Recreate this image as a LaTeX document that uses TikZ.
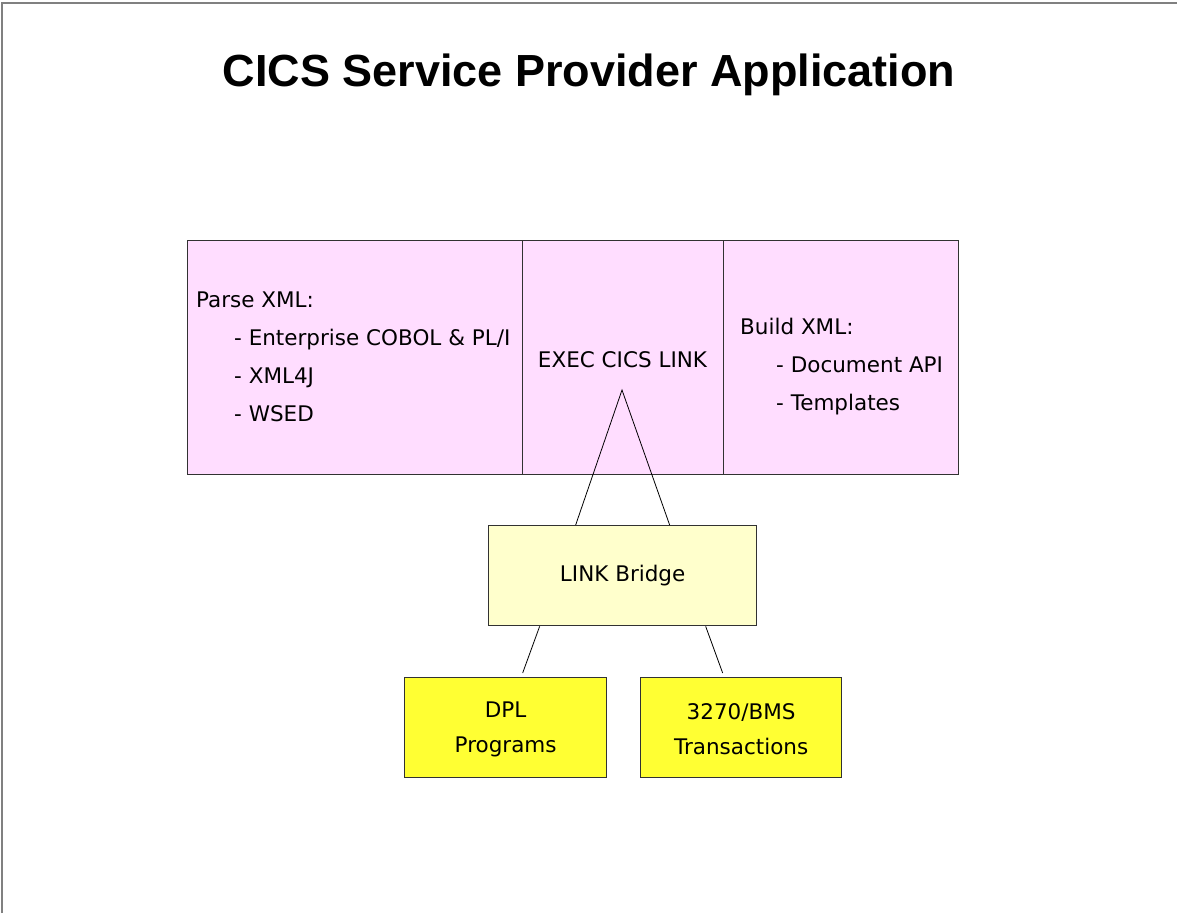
\documentclass[tikz,border=0pt]{standalone}
\usepackage{fontspec}
\setmainfont{DejaVu Sans}
\newfontfamily\titlefont{Liberation Sans}
\usetikzlibrary{calc}
\definecolor{pinkfill}{RGB}{255,221,255}
\definecolor{lightyellow}{RGB}{255,255,204}
\definecolor{brightyellow}{RGB}{255,255,51}
\definecolor{edgegray}{RGB}{50,50,50}
\begin{document}
\begin{tikzpicture}[x=1pt,y=-1pt,
  box/.style={draw=edgegray, line width=1.3pt, anchor=north west, inner sep=0pt},
  lbl/.style={font=\fontsize{21.5}{35}\selectfont, inner sep=0pt},
  conn/.style={draw=black, line width=0.8pt}]
\useasboundingbox (0,0) rectangle (1177,913);
\fill[white] (0,0) rectangle (1177,913);
\draw[gray, line width=1.5pt] (2,913) -- (2,3) -- (1177,3);

\node[font=\titlefont\bfseries\fontsize{45}{52}\selectfont, inner sep=0pt] (title) at (589,75) {CICS Service Provider Application};

% top composite box
\node[box, fill=pinkfill, minimum width=335, minimum height=234] (parse) at (187,240) {};
\node[box, fill=pinkfill, minimum width=201, minimum height=234] (exec) at (522,240) {};
\node[box, fill=pinkfill, minimum width=235, minimum height=234] (build) at (723,240) {};

\node[lbl, anchor=base west] (p0) at (196,307) {Parse XML:};
\node[lbl, anchor=base west] (p1) at (234,345) {- Enterprise COBOL \& PL/I};
\node[lbl, anchor=base west] (p2) at (234,383) {- XML4J};
\node[lbl, anchor=base west] (p3) at (234,421) {- WSED};

\node[lbl, anchor=base] (ex) at (622.5,367) {EXEC CICS LINK};

\node[lbl, anchor=base west] (b0) at (740,334) {Build XML:};
\node[lbl, anchor=base west] (b1) at (776,372) {- Document API};
\node[lbl, anchor=base west] (b2) at (776,410) {- Templates};

% lower boxes
\node[box, fill=lightyellow, minimum width=268, minimum height=100] (bridge) at (488,525) {};
\node[lbl] (bridgetxt) at (bridge.center) {LINK Bridge};

\node[box, fill=brightyellow, minimum width=202, minimum height=100] (dpl) at (404,677) {};
\node[lbl, align=center] (dpltxt) at ($(dpl.center)+(0,2)$) {DPL\\Programs};

\node[box, fill=brightyellow, minimum width=201, minimum height=100] (bms) at (640,677) {};
\node[lbl, align=center] (bmstxt) at ($(bms.center)+(0,2)$) {3270/BMS\\Transactions};

% connectors
\coordinate (apex) at (622,390);
\draw[conn] ($(bridge.north)+(-47,0)$) -- (apex) -- ($(bridge.north)+(47,0)$);
\draw[conn] ($(bridge.south)+(-83,0)$) -- ($(dpl.north)+(17,-4)$);
\draw[conn] ($(bridge.south)+(83,0)$) -- ($(bms.north)+(-18.5,-4)$);
\end{tikzpicture}
\end{document}
